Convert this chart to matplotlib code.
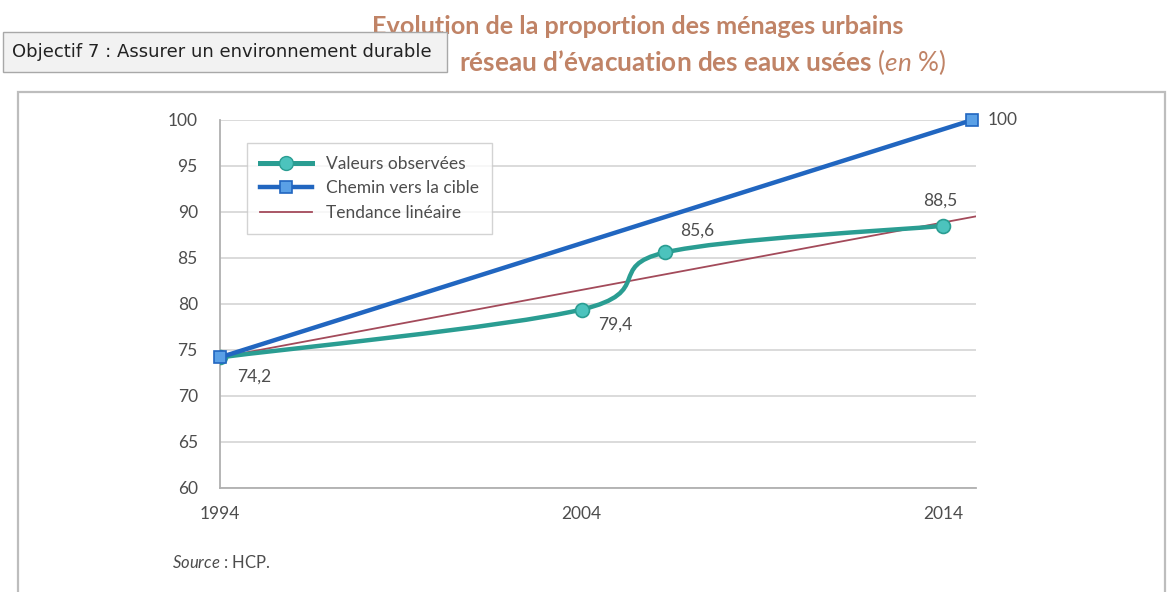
import matplotlib
matplotlib.use("Agg")
import matplotlib.pyplot as plt
from matplotlib.path import Path
from matplotlib.patches import PathPatch, Rectangle
import numpy as np

plt.rcParams["mathtext.fontset"] = "custom"
plt.rcParams["mathtext.rm"] = "Lato"
plt.rcParams["mathtext.it"] = "Lato:italic"
plt.rcParams["mathtext.bf"] = "Lato:bold"

# data
obs_years = [1994, 2004, 2006.3, 2014]
obs_vals = [74.2, 79.4, 85.6, 88.5]
obs_labels = ["74,2", "79,4", "85,6", "88,5"]

target_years = [1994, 2014.8]
target_vals = [74.2, 100]

trend_years = [1994, 2015]
trend_vals = [74.2, 89.6]

xtick_years = [1994, 2004, 2014]
yticks = [60, 65, 70, 75, 80, 85, 90, 95, 100]

teal = "#2a9d92"
teal_face = "#4cc3bd"
blue = "#2166c0"
blue_face = "#5aa0e6"
red = "#a34a5a"
grey_txt = "#4d4d4d"
title_col = "#c08366"

fig = plt.figure(figsize=(11.72, 5.92), dpi=100)

# outer frame and tooltip (figure coords)
fig.patches.append(Rectangle((18 / 1172, -0.05), (1165 - 18) / 1172, 1 - 92 / 592 + 0.05,
                             transform=fig.transFigure, fill=False, ec="#bdbdbd", lw=1.6))

fig.text(638 / 1172, 1 - 26 / 592, "Evolution de la proportion des ménages urbains",
         ha="center", va="center", fontsize=18.2, color=title_col, family="Lato", weight="bold")
# second title line: only the part that the tooltip leaves visible
fig.text(459 / 1172, 1 - 62 / 592,
         "réseau d’évacuation des eaux usées $\\mathit{(en\\ \\%)}$",
         ha="left", va="center", fontsize=18.8, color=title_col, family="Lato", weight="bold")

fig.patches.append(Rectangle((3 / 1172, 1 - 72 / 592), 444 / 1172, 40 / 592,
                             transform=fig.transFigure, fc="#f2f2f2", ec="#a8a8a8", lw=1.0, zorder=5))
fig.text(12 / 1172, 1 - 52 / 592, "Objectif 7 : Assurer un environnement durable",
         ha="left", va="center", fontsize=13, color="#222222", family="DejaVu Sans", zorder=6)

ax = fig.add_axes([220 / 1172, 1 - 488 / 592, 756 / 1172, 368 / 592])
ax.set_xlim(1994, 2014.9)
ax.set_ylim(60, 100)
ax.set_yticks(yticks)
ax.set_xticks(xtick_years)
ax.tick_params(length=0, labelsize=12.5, labelcolor=grey_txt, pad=16)
ax.tick_params(axis="x", pad=13)
for lab in ax.get_xticklabels() + ax.get_yticklabels():
    lab.set_family("Lato")
ax.grid(axis="y", color="#d4d4d4", lw=1.2)
ax.set_axisbelow(True)
for s in ["top", "right"]:
    ax.spines[s].set_visible(False)
ax.spines["left"].set_color("#b0b0b0")
ax.spines["bottom"].set_color("#b0b0b0")
ax.spines["left"].set_linewidth(1.3)
ax.spines["bottom"].set_linewidth(1.3)

# trend line
ax.plot(trend_years, trend_vals, color=red, lw=1.3, zorder=2, label="Tendance linéaire")

# smoothed observed line (Catmull-Rom as Bezier segments)
pts = np.column_stack([obs_years, obs_vals])
ext = np.vstack([pts[0], pts, pts[-1]])
verts = [tuple(pts[0])]
codes = [Path.MOVETO]
for i in range(1, len(ext) - 2):
    p0, p1, p2, p3 = ext[i - 1], ext[i], ext[i + 1], ext[i + 2]
    c1 = p1 + (p2 - p0) / 6
    c2 = p2 - (p3 - p1) / 6
    verts += [tuple(c1), tuple(c2), tuple(p2)]
    codes += [Path.CURVE4] * 3
ax.add_patch(PathPatch(Path(verts, codes), fill=False, ec=teal, lw=3.2, zorder=3,
                       capstyle="round"))
ax.plot(obs_years, obs_vals, ls="none", marker="o", ms=10, mfc=teal_face, mec=teal,
        mew=1.2, zorder=4)
# legend proxy
ax.plot([], [], color=teal, lw=3.6, marker="o", ms=10, mfc=teal_face, mec=teal,
        label="Valeurs observées")

ax.plot(target_years, target_vals, color=blue, lw=3.2, marker="s", ms=9, mfc=blue_face,
        mec=blue, mew=1.2, zorder=5, clip_on=False, label="Chemin vers la cible")

# data labels
offs = [(12, -14), (12, -11), (11, 16), (-2, 18)]
for x, y, t, (dx, dy) in zip(obs_years, obs_vals, obs_labels, offs):
    ax.annotate(t, (x, y), xytext=(dx, dy), textcoords="offset points", ha="left" if dx > 5 else "center",
                va="center", fontsize=12.5, color=grey_txt, family="Lato")
ax.annotate("100", (target_years[1], target_vals[1]), xytext=(11, 0), textcoords="offset points",
            ha="left", va="center", fontsize=12.5, color=grey_txt, family="Lato", annotation_clip=False)

h, l = ax.get_legend_handles_labels()
order = [l.index("Valeurs observées"), l.index("Chemin vers la cible"), l.index("Tendance linéaire")]
leg = ax.legend([h[i] for i in order], [l[i] for i in order], loc="upper left",
                bbox_to_anchor=(18 / 756, 1 - 14 / 368), frameon=True, fancybox=False,
                edgecolor="#c8c8c8", handlelength=3.0, borderpad=0.75, handletextpad=0.8,
                labelspacing=0.5, prop={"family": "Lato", "size": 12.5})
leg.get_frame().set_linewidth(1.0)
for t in leg.get_texts():
    t.set_color(grey_txt)

fig.text(172 / 1172, 1 - 563 / 592, "$\\mathit{Source}$ : HCP.", ha="left", va="center",
         fontsize=12, color=grey_txt, family="Lato")

fig.savefig("out.png", dpi=100)
